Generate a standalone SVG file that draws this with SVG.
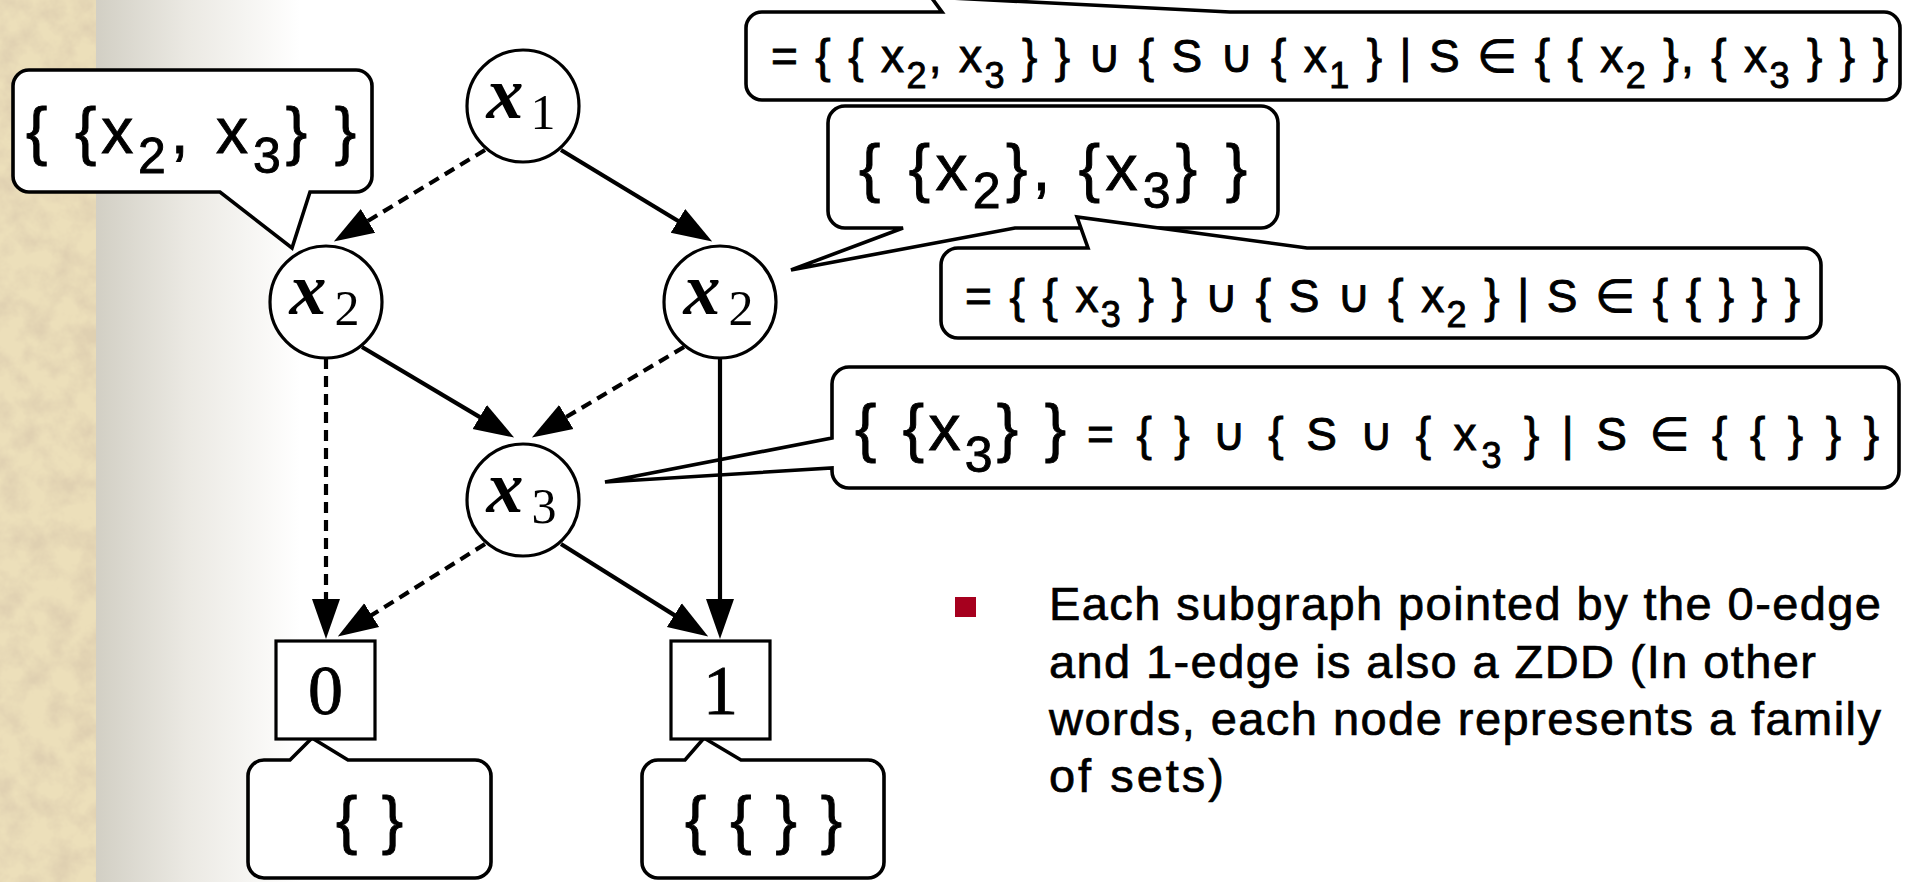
<svg xmlns="http://www.w3.org/2000/svg" width="1915" height="882" viewBox="0 0 1915 882">
<defs>
<style>
.conn{fill:none;stroke:#000;stroke-width:4.2}
.dash{stroke-dasharray:11 7}
.nd{fill:#fff;stroke:#000;stroke-width:3.2}
.bub{fill:#fff;stroke:#000;stroke-width:3.6;stroke-linejoin:miter}
.bt{font-family:"Liberation Sans","DejaVu Sans",sans-serif;fill:#000;stroke:#000;stroke-width:0.9}
.mx{font-family:"Liberation Serif","DejaVu Serif",serif;font-weight:bold;font-style:italic;font-size:74px;text-anchor:middle}
.ms{font-family:"Liberation Serif","DejaVu Serif",serif;font-size:50px;text-anchor:middle}
.term{font-family:"Liberation Serif","DejaVu Serif",serif;font-size:70px;text-anchor:middle;stroke:#000;stroke-width:0.8}
.body{font-family:"Liberation Sans","DejaVu Sans",sans-serif;font-size:47px;fill:#000;stroke:#000;stroke-width:0.7}
</style>
<linearGradient id="shade" x1="96" y1="0" x2="300" y2="0" gradientUnits="userSpaceOnUse">
<stop offset="0" stop-color="#d2cfc4"/>
<stop offset="0.45" stop-color="#ebe9e3"/>
<stop offset="1" stop-color="#ffffff"/>
</linearGradient>
<filter id="paper" x="0" y="0" width="1" height="1">
<feTurbulence type="fractalNoise" baseFrequency="0.04" numOctaves="4" seed="7" result="n"/>
<feColorMatrix in="n" type="matrix" values="0 0 0 0 0.74  0 0 0 0 0.63  0 0 0 0 0.44  2.2 0 0 0 -0.8"/>
</filter>
<marker id="arr" markerUnits="userSpaceOnUse" markerWidth="44" markerHeight="34" viewBox="0 -17 44 34" refX="8" refY="0" orient="auto">
<path d="M0,-14 L40,0 L0,14 Z" fill="#000"/>
</marker>
</defs>

<g id="background">
<rect x="0" y="0" width="1915" height="882" fill="#ffffff"/>
<rect x="96" y="0" width="210" height="882" fill="url(#shade)"/>
<rect x="0" y="0" width="96" height="882" fill="#ecdfba"/>
<rect x="0" y="0" width="96" height="882" filter="url(#paper)"/>
</g>

<g id="callout-x2-left">
<path class="bub" d="M29,70 H356 A16,16 0 0 1 372,86 V176 A16,16 0 0 1 356,192 H310 L292,248 L220,192 H29 A16,16 0 0 1 13,176 V86 A16,16 0 0 1 29,70 Z"/>
<text class="bt" x="26" y="153" font-size="64" textLength="330">{ {x<tspan font-size="50" dy="20">2</tspan><tspan dy="-20">, x</tspan><tspan font-size="50" dy="20">3</tspan><tspan dy="-20">} }</tspan></text>
</g>

<g id="callout-x1">
<path class="bub" d="M762,12 H942 L931,-3 L1230,12 H1884 A16,16 0 0 1 1900,28 V84 A16,16 0 0 1 1884,100 H762 A16,16 0 0 1 746,84 V28 A16,16 0 0 1 762,12 Z"/>
<text class="bt" x="771" y="72" font-size="46" textLength="1117">= { { x<tspan font-size="36" dy="16">2</tspan><tspan dy="-16">, x</tspan><tspan font-size="36" dy="16">3</tspan><tspan dy="-16"> } } ∪ { S ∪ { x</tspan><tspan font-size="36" dy="16">1</tspan><tspan dy="-16"> } | S ∈ { { x</tspan><tspan font-size="36" dy="16">2</tspan><tspan dy="-16"> }, { x</tspan><tspan font-size="36" dy="16">3</tspan><tspan dy="-16"> } } }</tspan></text>
</g>

<g id="callout-x2-right">
<path class="bub" d="M845,106 H1261 A17,17 0 0 1 1278,123 V211 A17,17 0 0 1 1261,228 H1015 L791,270 L903,228 H845 A17,17 0 0 1 828,211 V123 A17,17 0 0 1 845,106 Z"/>
<text class="bt" x="859" y="190" font-size="64" textLength="388">{ {x<tspan font-size="50" dy="18">2</tspan><tspan dy="-18">}, {x</tspan><tspan font-size="50" dy="18">3</tspan><tspan dy="-18">} }</tspan></text>
</g>

<g id="callout-x2-right-eq">
<path class="bub" d="M958,248 H1088 L1077,217 L1307,248 H1804 A17,17 0 0 1 1821,265 V321 A17,17 0 0 1 1804,338 H958 A17,17 0 0 1 941,321 V265 A17,17 0 0 1 958,248 Z"/>
<text class="bt" x="965" y="312" font-size="46" textLength="835">= { { x<tspan font-size="36" dy="15">3</tspan><tspan dy="-15"> } } ∪ { S ∪ { x</tspan><tspan font-size="36" dy="15">2</tspan><tspan dy="-15"> } | S ∈ { { } } }</tspan></text>
</g>

<g id="callout-x3">
<path class="bub" d="M849,367 H1882 A17,17 0 0 1 1899,384 V471 A17,17 0 0 1 1882,488 H849 A17,17 0 0 1 832,471 V468 L605,482 L832,438 V384 A17,17 0 0 1 849,367 Z"/>
<text class="bt" x="855" y="450" font-size="64" textLength="211">{ {x<tspan font-size="50" dy="22">3</tspan><tspan dy="-22">} }</tspan></text>
<text class="bt" x="1087" y="450" font-size="46" textLength="792">= { } ∪ { S ∪ { x<tspan font-size="36" dy="18">3</tspan><tspan dy="-18"> } | S ∈ { { } } }</tspan></text>
</g>

<g id="callout-0">
<path class="bub" d="M264,760 H290 L312,738 L348,760 H475 A16,16 0 0 1 491,776 V862 A16,16 0 0 1 475,878 H264 A16,16 0 0 1 248,862 V776 A16,16 0 0 1 264,760 Z"/>
<text class="bt" x="336" y="842" font-size="64" textLength="67">{ }</text>
</g>

<g id="callout-1">
<path class="bub" d="M658,760 H685 L704,738 L741,760 H868 A16,16 0 0 1 884,776 V862 A16,16 0 0 1 868,878 H658 A16,16 0 0 1 642,862 V776 A16,16 0 0 1 658,760 Z"/>
<text class="bt" x="685" y="842" font-size="64" textLength="157">{ { } }</text>
</g>

<g id="connectors">
<line class="conn dash" x1="485" y1="150" x2="361.2" y2="225" marker-end="url(#arr)"/>
<line class="conn" x1="561" y1="150" x2="684.8" y2="225" marker-end="url(#arr)"/>
<line class="conn" x1="362" y1="347" x2="486.6" y2="421.1" marker-end="url(#arr)"/>
<line class="conn dash" x1="684" y1="347" x2="559.4" y2="421.1" marker-end="url(#arr)"/>
<line class="conn dash" x1="326" y1="358" x2="326" y2="607" marker-end="url(#arr)"/>
<line class="conn dash" x1="485" y1="544" x2="364.9" y2="619.4" marker-end="url(#arr)"/>
<line class="conn" x1="561" y1="544" x2="681.1" y2="619.4" marker-end="url(#arr)"/>
<line class="conn" x1="720" y1="358" x2="720" y2="607" marker-end="url(#arr)"/>
</g>

<g id="node-x1">
<circle class="nd" cx="523" cy="106" r="56"/>
<text class="mx" x="505" y="118">x</text><text class="ms" x="543" y="129">1</text>
</g>
<g id="node-x2-left">
<circle class="nd" cx="326" cy="302" r="56"/>
<text class="mx" x="308" y="314">x</text><text class="ms" x="347" y="325">2</text>
</g>
<g id="node-x2-right">
<circle class="nd" cx="720" cy="302" r="56"/>
<text class="mx" x="702" y="314">x</text><text class="ms" x="741" y="325">2</text>
</g>
<g id="node-x3">
<circle class="nd" cx="523" cy="500" r="56"/>
<text class="mx" x="505" y="512">x</text><text class="ms" x="544" y="523">3</text>
</g>
<g id="node-0">
<rect class="nd" x="276" y="641" width="99" height="98"/>
<text class="term" x="325.5" y="714">0</text>
</g>
<g id="node-1">
<rect class="nd" x="671" y="641" width="99" height="98"/>
<text class="term" x="720.5" y="714">1</text>
</g>

<g id="bullet">
<rect x="955" y="597" width="21" height="20" fill="#a6001e"/>
<text class="body" x="1049" y="620" textLength="832">Each subgraph pointed by the 0-edge</text>
<text class="body" x="1049" y="678" textLength="767">and 1-edge is also a ZDD (In other</text>
<text class="body" x="1049" y="735" textLength="832">words, each node represents a family</text>
<text class="body" x="1049" y="792" textLength="175">of sets)</text>
</g>
</svg>
